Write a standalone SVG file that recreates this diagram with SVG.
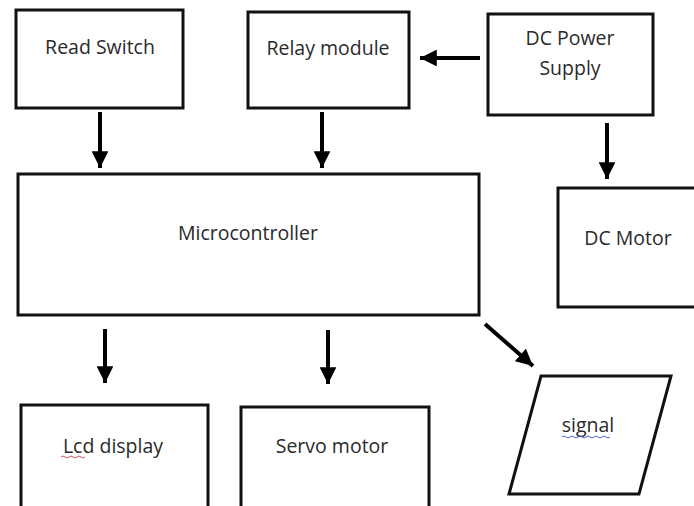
<svg xmlns="http://www.w3.org/2000/svg" width="694" height="506" viewBox="0 0 694 506">
<defs>
<style>
.box{fill:#fff;stroke:#111;stroke-width:3}
.lbl{font-family:"Open Sans","Noto Sans",sans-serif;font-size:19.5px;fill:#2a2a2a;text-anchor:middle}
.conn{stroke:#000;stroke-width:4;fill:none;marker-end:url(#ah)}
</style>
<marker id="ah" viewBox="0 0 10 10" refX="10" refY="5" markerWidth="4.2" markerHeight="4.2" markerUnits="strokeWidth" orient="auto">
<path d="M0,0 L10,5 L0,10 z" fill="#000"/>
</marker>
</defs>
<rect width="694" height="506" fill="#fff"/>
<g id="read-switch"><rect class="box" x="16" y="10" width="167" height="98"/><text class="lbl" x="100" y="54">Read Switch</text></g>
<g id="relay-module"><rect class="box" x="248" y="12" width="161" height="96"/><text class="lbl" x="328" y="55">Relay module</text></g>
<g id="dc-power"><rect class="box" x="488" y="14" width="165" height="101"/><text class="lbl" x="570" y="45">DC Power</text><text class="lbl" x="570" y="75">Supply</text></g>
<g id="dc-motor"><rect class="box" x="558" y="188" width="140" height="119"/><text class="lbl" x="628" y="245">DC Motor</text></g>
<g id="microcontroller"><rect class="box" x="18" y="174" width="461" height="141"/><text class="lbl" x="248" y="240">Microcontroller</text></g>
<g id="lcd-display"><rect class="box" x="21" y="405" width="187" height="110"/><text class="lbl" x="113" y="453">Lcd display</text><path d="M61,457 q2,-2 4,0 t4,0 t4,0 t4,0 t4,0 t4,0" stroke="#d05060" stroke-width="1" fill="none"/></g>
<g id="servo-motor"><rect class="box" x="241" y="407" width="188" height="110"/><text class="lbl" x="332" y="453">Servo motor</text></g>
<g id="signal"><polygon class="box" points="541,376 671,376 639,494 509,494"/><text class="lbl" x="588" y="432">signal</text><path d="M562,437 q2,-2 4,0 t4,0 t4,0 t4,0 t4,0 t4,0 t4,0 t4,0 t4,0 t4,0 t4,0 t4,0" stroke="#5060d0" stroke-width="1" fill="none"/></g>
<g id="connectors">
<line class="conn" x1="100" y1="112" x2="100" y2="168"/>
<line class="conn" x1="322" y1="112" x2="322" y2="168"/>
<line class="conn" x1="480" y1="58" x2="420" y2="58"/>
<line class="conn" x1="607" y1="123" x2="607" y2="179"/>
<line class="conn" x1="105" y1="329" x2="105" y2="383"/>
<line class="conn" x1="328" y1="330" x2="328" y2="384"/>
<line class="conn" x1="485" y1="324" x2="533" y2="366"/>
</g>
</svg>
